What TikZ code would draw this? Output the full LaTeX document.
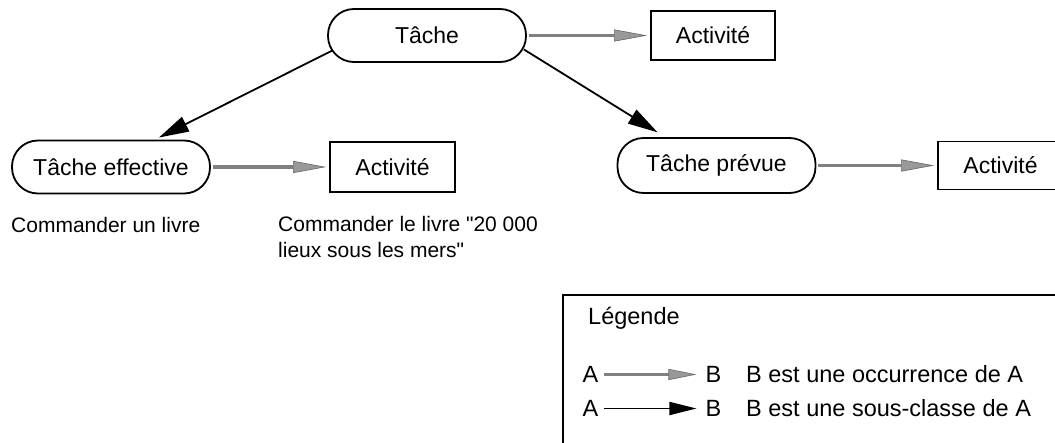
\documentclass[tikz,border=0pt]{standalone}
\usepackage{fontspec}
\setmainfont{Liberation Sans}
\usetikzlibrary{arrows.meta}
\tikzset{
  tasknode/.style={draw, line width=1.8pt, rounded corners=26pt, inner sep=0pt,
    minimum width=198pt, minimum height=53pt},
  actnode/.style={draw, line width=1.8pt, inner sep=0pt,
    minimum width=124pt, minimum height=49pt},
  plain/.style={inner sep=0pt},
  extext/.style={inner sep=0pt, font=\fontsize{21}{26}\selectfont},
  legtext/.style={inner sep=0pt, font=\fontsize{23.5}{28}\selectfont},
  occarrow/.style={draw=black!50, line width=3.5pt,
    -{Triangle[length=33pt,width=12pt,color=black!60,fill=black!40,line width=0.6pt]}},
  subarrow/.style={draw=black, line width=1.8pt,
    -{Triangle[length=30pt,width=16pt]}},
  legoccarrow/.style={draw=black!50, line width=3.5pt,
    -{Triangle[length=28pt,width=11pt,color=black!60,fill=black!40,line width=0.6pt]}},
  legsubarrow/.style={draw=black, line width=1.8pt,
    -{Triangle[length=27pt,width=13pt]}},
}
\begin{document}
\begin{tikzpicture}[x=1pt,y=-1pt,font=\fontsize{23}{26}\selectfont]
\useasboundingbox (0,0) rectangle (1055,442);
\clip (0,0) rectangle (1055,442);

% task nodes
\node[tasknode] (tache) at (427,35.5) {Tâche};
\node[tasknode] (teff) at (111,167) {Tâche effective};
\node[tasknode, minimum height=55pt] (tprev) at (716.5,165.5) {Tâche prévue};

% activity boxes
\node[actnode] (act1) at (713,35.5) {Activité};
\node[actnode, minimum width=125pt, minimum height=50pt] (act2) at (392.5,167) {Activité};
\node[actnode, minimum width=125pt, minimum height=48pt] (act3) at (1000.5,165.5) {Activité};

% occurrence arrows
\draw[occarrow, shorten <=2pt, shorten >=3pt] (tache.east) -- (act1.west);
\draw[occarrow, shorten <=2pt, shorten >=3pt] (teff.east) -- (act2.west);
\draw[occarrow, shorten <=2pt, shorten >=3pt] (tprev.east) -- (act3.west);

% subclass arrows
\draw[subarrow, shorten <=-5.5pt, shorten >=4.5pt] (tache.190) -- (teff.32);
\draw[subarrow, shorten <=-3.5pt, shorten >=9pt] (tache.351.7) -- (tprev.151);

% examples
\node[extext, anchor=base west] (ex1) at (11,232) {Commander un livre};
\node[extext, anchor=north west, align=left] (ex2) at (278,216.5)
  {Commander le livre \textquotedbl 20 000\\lieux sous les mers\textquotedbl};

% legend
\draw[line width=1.8pt] (563,295) rectangle (1090,480);
\node[legtext, anchor=base west] (legtitle) at (588,324) {Légende};
\node[legtext] (la1) at (590.5,374.5) {A};
\node[legtext] (lb1) at (713.5,374.5) {B};
\node[legtext, anchor=west] (lt1) at (746,374.5) {B est une occurrence de A};
\node[legtext] (la2) at (590.5,408.5) {A};
\node[legtext] (lb2) at (713.5,408.5) {B};
\node[legtext, anchor=west] (lt2) at (746,408.5) {B est une sous-classe de A};
\draw[legoccarrow, shorten <=5pt, shorten >=9pt] (la1) -- (lb1);
\draw[legsubarrow, shorten <=5pt, shorten >=9pt] (la2) -- (lb2);
\end{tikzpicture}
\end{document}
